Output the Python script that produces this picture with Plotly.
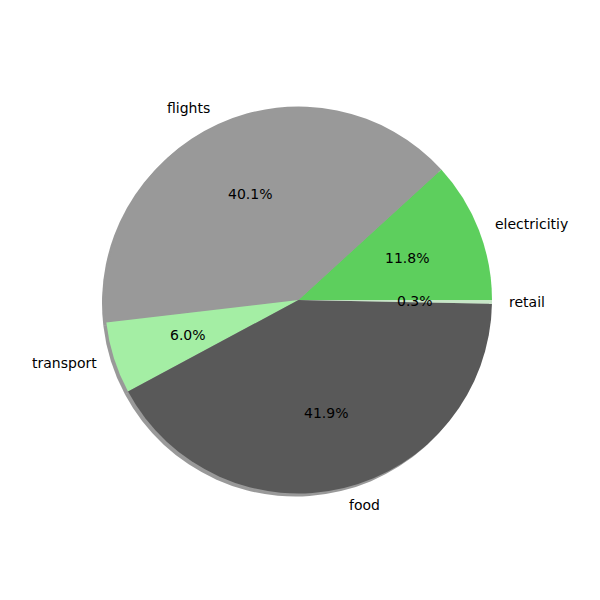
import numpy as np
import plotly.graph_objects as go

labels = ["electricitiy", "flights", "transport", "food", "retail"]
values = [11.8, 40.1, 6.0, 41.9, 0.3]
colors = ["#5dcf5d", "#999999", "#a4eea4", "#595959", "#c6e6c6"]

W = 600
cx_px, cy_px, r_px = 298.5, 300, 193.5
cx, cy, r = cx_px / W, 1 - cy_px / W, r_px / W
sh = 3 / W  # shadow offset

total = sum(values)
# plotly lays the first counterclockwise slice so that it ends at the start angle,
# so turn it back by the first slice's width to start at 3 o'clock
rot = 90 - values[0] / total * 360

fig = go.Figure()

# shadow pie (offset down-left)
fig.add_trace(
    go.Pie(
        values=values,
        sort=False,
        direction="counterclockwise",
        rotation=rot,
        marker=dict(colors=["rgba(0,0,0,0.4)"] * len(values), line=dict(width=0)),
        textinfo="none",
        hoverinfo="skip",
        showlegend=False,
        domain=dict(x=[cx - r - sh, cx + r - sh], y=[cy - r - sh, cy + r - sh]),
    )
)

fig.add_trace(
    go.Pie(
        labels=labels,
        values=values,
        sort=False,
        direction="counterclockwise",
        rotation=rot,
        marker=dict(colors=colors, line=dict(width=0)),
        textinfo="none",
        showlegend=False,
        domain=dict(x=[cx - r, cx + r], y=[cy - r, cy + r]),
    )
)

# label / percentage positions from the cumulative angles
cum = np.cumsum([0] + values[:-1])
mid = [(c + v / 2) / total * 2 * np.pi for c, v in zip(cum, values)]

annotations = []
for lab, v, a in zip(labels, values, mid):
    lx = cx + 1.085 * r * np.cos(a)
    ly = cy + 1.09 * r * np.sin(a)
    annotations.append(
        dict(
            x=lx, y=ly, xref="paper", yref="paper", text=lab, showarrow=False,
            xanchor="left" if np.cos(a) > 0 else "right", yanchor="middle",
            borderpad=0,
        )
    )
    px = cx + 0.6 * r * np.cos(a)
    py = cy + 0.6 * r * np.sin(a)
    annotations.append(
        dict(
            x=px, y=py, xref="paper", yref="paper", text=f"{v / total * 100:.1f}%",
            showarrow=False, xanchor="center", yanchor="middle", borderpad=0,
        )
    )

fig.update_layout(
    width=600,
    height=600,
    margin=dict(l=0, r=0, t=0, b=0),
    paper_bgcolor="white",
    plot_bgcolor="white",
    font=dict(family="DejaVu Sans", size=14, color="black"),
    annotations=annotations,
)

fig.write_html(
    "out.html",
    config={"displayModeBar": False},
    post_script="document.body.style.margin='0';",
)
